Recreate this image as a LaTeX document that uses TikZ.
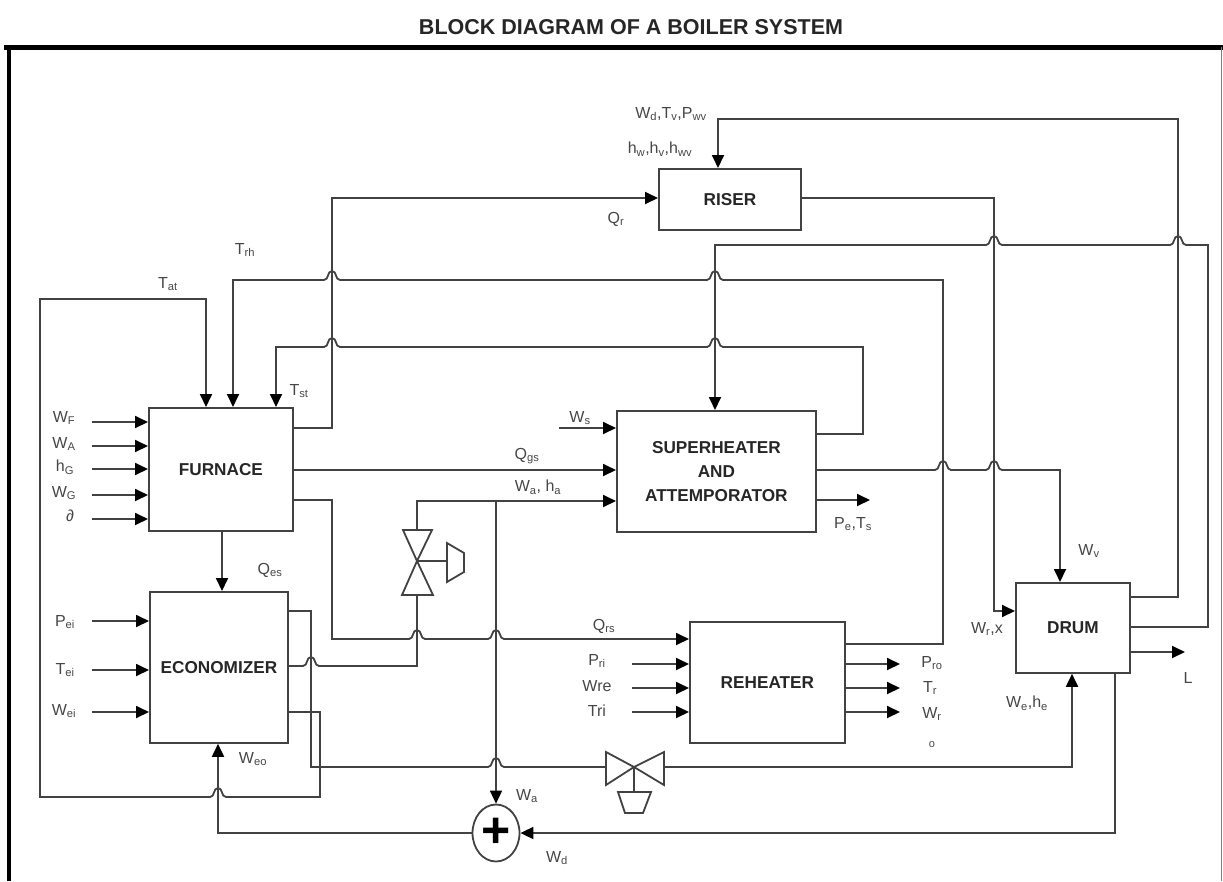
\documentclass[tikz,border=0pt]{standalone}
\usepackage{fontspec}
\setmainfont{Liberation Sans}
\usetikzlibrary{arrows.meta,shapes.geometric}
\definecolor{L}{RGB}{66, 66, 66}
\definecolor{T}{RGB}{70, 70, 70}
\tikzset{
  line/.style={L, line width=1.8pt},
  flow/.style={L, line width=1.8pt, -{Triangle[length=13pt,width=12pt,black]}},
  block/.style={draw=L, line width=1.8pt, anchor=north west, align=center, inner sep=0pt,
    font=\fontsize{17.2}{24}\selectfont\bfseries, text=black!85},
  lab/.style={T, inner sep=0pt, font=\fontsize{16}{18}\selectfont},
  valvepart/.style={L, line width=1.8pt, fill=white, line join=miter}
}
\newcommand{\hopr}[2]{-- (#1-8,#2) .. controls (#1-3,#2) and (#1-5,#2-9) .. (#1,#2-9) .. controls (#1+5,#2-9) and (#1+3,#2) .. (#1+8,#2)}
\newcommand{\hopl}[2]{-- (#1+8,#2) .. controls (#1+3,#2) and (#1+5,#2-9) .. (#1,#2-9) .. controls (#1-5,#2-9) and (#1-3,#2) .. (#1-8,#2)}
\begin{document}
\begin{tikzpicture}[x=1pt,y=-1pt]
  \useasboundingbox (0,0) rectangle (1223,881);
  \node[black!85, font=\fontsize{21.5}{24}\selectfont\bfseries] (title) at (631,27) {BLOCK DIAGRAM OF A BOILER SYSTEM};
  \draw[black, line width=5pt] (4,47) -- (1223,47);
  \draw[black, line width=4pt] (9,47) -- (9,881);
  \draw[black!50, line width=1pt] (1221,47) -- (1221,881);

  % blocks
  \node[block, minimum width=144pt, minimum height=123pt] (furnace) at (148,407) {FURNACE};
  \node[block, minimum width=138pt, minimum height=151pt] (economizer) at (149,591) {ECONOMIZER};
  \node[block, minimum width=142pt, minimum height=61pt] (riser) at (658,168) {RISER};
  \node[block, minimum width=199pt, minimum height=121pt] (superheater) at (616,410) {SUPERHEATER\\AND\\ATTEMPORATOR};
  \node[block, minimum width=155pt, minimum height=121pt] (reheater) at (689,621) {REHEATER};
  \node[block, minimum width=114pt, minimum height=90pt] (drum) at (1015,582) {DRUM};
  \node[draw=L, line width=1.8pt, ellipse, minimum width=47pt, minimum height=57pt, inner sep=0pt] (adder) at (496,833) {};
  \node[black, inner sep=0pt, font=\fontsize{50}{50}\selectfont\bfseries] (plus) at (adder.center) {+};

  % furnace inputs
  \coordinate (inWF) at (92,422);
  \coordinate (inWA) at (92,446);
  \coordinate (inhG) at (92,469);
  \coordinate (inWG) at (92,495);
  \coordinate (indel) at (92,519);
  \draw[flow] (inWF) -- (inWF -| furnace.west);
  \draw[flow] (inWA) -- (inWA -| furnace.west);
  \draw[flow] (inhG) -- (inhG -| furnace.west);
  \draw[flow] (inWG) -- (inWG -| furnace.west);
  \draw[flow] (indel) -- (indel -| furnace.west);
  \node[lab] (WF) at (64,418) {W\textsubscript{F}};
  \node[lab] (WA) at (64,444) {W\textsubscript{A}};
  \node[lab] (hG) at (65,467) {h\textsubscript{G}};
  \node[lab] (WG) at (64,493) {W\textsubscript{G}};
  \node[lab] (del) at (70,516) {∂};

  % economizer inputs
  \coordinate (inPei) at (92,621);
  \coordinate (inTei) at (92,670);
  \coordinate (inWei) at (92,712);
  \draw[flow] (inPei) -- (inPei -| economizer.west);
  \draw[flow] (inTei) -- (inTei -| economizer.west);
  \draw[flow] (inWei) -- (inWei -| economizer.west);
  \node[lab] (Pei) at (65,622) {P\textsubscript{ei}};
  \node[lab] (Tei) at (65,670) {T\textsubscript{ei}};
  \node[lab] (Wei) at (64,711) {W\textsubscript{ei}};

  % reheater inputs and outputs
  \coordinate (inPri) at (632,664);
  \coordinate (inWre) at (632,688);
  \coordinate (inTri) at (632,712);
  \draw[flow] (inPri) -- (inPri -| reheater.west);
  \draw[flow] (inWre) -- (inWre -| reheater.west);
  \draw[flow] (inTri) -- (inTri -| reheater.west);
  \node[lab] (Pri) at (597,661) {P\textsubscript{ri}};
  \node[lab] (Wre) at (597,686) {Wre};
  \node[lab] (Tri) at (597,711) {Tri};
  \coordinate (outPro) at (900,664);
  \coordinate (outTr) at (900,688);
  \coordinate (outWr) at (900,712);
  \draw[flow] (outPro -| reheater.east) -- (outPro);
  \draw[flow] (outTr -| reheater.east) -- (outTr);
  \draw[flow] (outWr -| reheater.east) -- (outWr);
  \node[lab] (Pro) at (932,663) {P\textsubscript{ro}};
  \node[lab] (Tr) at (930,688) {T\textsubscript{r}};
  \node[lab] (Wr) at (932,714) {W\textsubscript{r}};
  \node[lab, font=\fontsize{11}{12}\selectfont] (ro) at (932,745) {o};

  % superheater
  \coordinate (inWs) at (559,428);
  \coordinate (outPT) at (870,500);
  \coordinate (outL) at (1185,652);
  \draw[flow] (inWs) -- (inWs -| superheater.west);
  \draw[flow] (outPT -| superheater.east) -- (outPT);
  \draw[flow] (outL -| drum.east) -- (outL);
  \node[lab] (Ws) at (580,418) {W\textsubscript{s}};
  \node[lab] (PT) at (853,524) {P\textsubscript{e},T\textsubscript{s}};
  \node[lab] (L) at (1188,678) {L};

  % furnace connections
  \draw[flow] (furnace.south -| 222,0) -- (economizer.north -| 222,0);
  \draw[flow] (furnace.east |- 0,470) -- (superheater.west |- 0,470);
  \draw[flow] (furnace.east |- 0,428) -- (332,428) -- (332,198) -- (riser.west |- 0,198);
  \draw[flow] (furnace.east |- 0,500) -- (332,500) -- (332,639) \hopr{417}{639} \hopr{496}{639} -- (reheater.west |- 0,639);

  % feedback into the furnace
  \draw[flow] (economizer.east |- 0,712) -- (320,712) -- (320,797) \hopl{218}{797} -- (40,797) -- (40,299) -- (206,299) -- (furnace.north -| 206,0);
  \draw[flow] (reheater.east |- 0,644) -- (943,644) -- (943,280) \hopl{715}{280} \hopl{332}{280} -- (233,280) -- (furnace.north -| 233,0);
  \draw[flow] (superheater.east |- 0,434) -- (863,434) -- (863,347) \hopl{715}{347} \hopl{332}{347} -- (276,347) -- (furnace.north -| 276,0);

  % riser and drum
  \draw[flow] (riser.east |- 0,198) -- (994,198) -- (994,611) -- (drum.west |- 0,611);
  \draw[flow] (drum.east |- 0,597) -- (1178,597) -- (1178,119) -- (718,119) -- (riser.north -| 718,0);
  \draw[flow] (drum.east |- 0,627) -- (1208,627) -- (1208,245) \hopl{1178}{245} \hopl{994}{245} -- (715,245) -- (superheater.north -| 715,0);
  \draw[flow] (superheater.east |- 0,470) \hopr{943}{470} \hopr{994}{470} -- (1060,470) -- (drum.north -| 1060,0);

  % spray valve
  \coordinate (vhub) at (417,561);
  \draw[flow] (417,530) -- (417,501) -- (superheater.west |- 0,501);
  \draw[line] (economizer.east |- 0,666) \hopr{311}{666} -- (417,666) -- (417,596);
  \draw[valvepart] (403,530) -- (432,530) -- (vhub) -- cycle;
  \draw[valvepart] (402,595) -- (433,595) -- (vhub) -- cycle;
  \draw[line] (vhub) -- (447,561);
  \draw[valvepart] (447,543) -- (464,553) -- (464,572) -- (447,582) -- cycle;
  \draw[flow] (496,501) -- (adder.north);

  % feed valve
  \coordinate (fhub) at (634,767);
  \draw[line] (economizer.east |- 0,611) -- (311,611) -- (311,767) \hopr{496}{767} -- (606,767);
  \draw[valvepart] (606,752) -- (606,785) -- (fhub) -- cycle;
  \draw[valvepart] (664,752) -- (664,785) -- (fhub) -- cycle;
  \draw[flow] (664,767) -- (1072,767) -- (drum.south -| 1072,0);
  \draw[line] (fhub) -- (634,792);
  \draw[valvepart] (618,792) -- (651,792) -- (643,813) -- (625,813) -- cycle;

  % adder
  \draw[flow] (drum.south -| 1115,0) -- (1115,833) -- (adder.east);
  \draw[flow] (adder.west) -- (218,833) -- (economizer.south -| 218,0);

  % signal labels
  \node[lab] (Tat) at (168,284) {T\textsubscript{at}};
  \node[lab] (Trh) at (245,250) {T\textsubscript{rh}};
  \node[lab] (Tst) at (299,391) {T\textsubscript{st}};
  \node[lab] (Qr) at (616,219) {Q\textsubscript{r}};
  \node[lab] (Wdv) at (671,114) {W\textsubscript{d},T\textsubscript{v},P\textsubscript{wv}};
  \node[lab] (hwv) at (660,149) {h\textsubscript{w},h\textsubscript{v},h\textsubscript{wv}};
  \node[lab] (Qgs) at (527,456) {Q\textsubscript{gs}};
  \node[lab] (Wah) at (538,487) {W\textsubscript{a}, h\textsubscript{a}};
  \node[lab] (Qrs) at (604,626) {Q\textsubscript{rs}};
  \node[lab] (Qes) at (270,570) {Q\textsubscript{es}};
  \node[lab] (Weo) at (253,759) {W\textsubscript{eo}};
  \node[lab] (Wa) at (527,796) {W\textsubscript{a}};
  \node[lab] (Wd) at (557,858) {W\textsubscript{d}};
  \node[lab] (Wv) at (1089,551) {W\textsubscript{v}};
  \node[lab] (Wrx) at (987,629) {W\textsubscript{r},x};
  \node[lab] (Weh) at (1027,703) {W\textsubscript{e},h\textsubscript{e}};
\end{tikzpicture}
\end{document}
